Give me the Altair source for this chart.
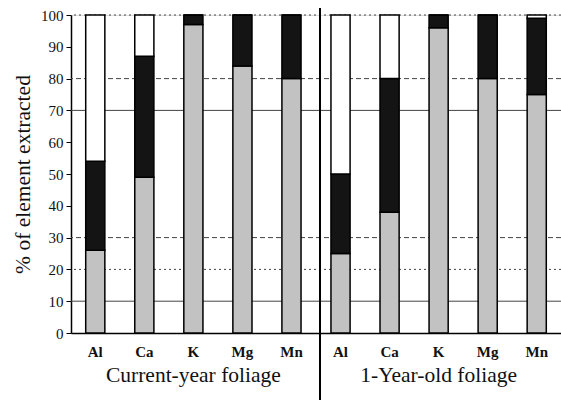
import altair as alt
import pandas as pd

elements = ["Al", "Ca", "K", "Mg", "Mn"]
groups = ["Current-year foliage", "1-Year-old foliage"]
# values (% of element extracted), per group in element order
stippled = [26, 49, 97, 84, 80, 25, 38, 96, 80, 75]
dark = [28, 38, 3, 16, 20, 25, 42, 4, 20, 24]
white = [46, 13, 0, 0, 0, 50, 20, 0, 0, 1]
grid_values = [10, 20, 30, 70, 80, 100]
grid_styles = ["solid", "dotted", "dashed", "solid", "dashed", "dotted"]
y_ticks = [0, 10, 20, 30, 40, 50, 60, 70, 80, 90, 100]

rows = []
cats = []
for gi, g in enumerate(groups):
    for ei, e in enumerate(elements):
        i = gi * 5 + ei
        cat = f"{gi}-{e}"
        cats.append(cat)
        for order, (part, val) in enumerate(
            [("stippled", stippled[i]), ("dark", dark[i]), ("white", white[i])]
        ):
            rows.append({"cat": cat, "el": e, "part": part, "order": order, "value": val})
df = pd.DataFrame(rows)

grid_df = pd.DataFrame({"value": grid_values, "style": grid_styles})
label_df = pd.DataFrame({"cat": ["0-K", "1-K"], "label": groups})

W, H = 490, 318
font = "Liberation Serif"

xscale = alt.Scale(domain=cats, paddingInner=0.61, paddingOuter=0.3)
yscale = alt.Scale(domain=[0, 100], nice=False)

yaxis = alt.Axis(
    title="% of element extracted",
    titlePadding=6,
    values=y_ticks,
    labelOverlap=False,
    labelPadding=3,
    tickSize=5,
    grid=False,
)

grid = alt.Chart(grid_df).mark_rule(color="#444", strokeWidth=1).encode(
    y=alt.Y("value:Q", scale=yscale, axis=yaxis),
    strokeDash=alt.StrokeDash(
        "style:N",
        scale=alt.Scale(domain=["solid", "dotted", "dashed"],
                        range=[[1, 0], [2, 3], [5, 3]]),
        legend=None,
    ),
)

bars = alt.Chart(df).mark_bar(stroke="black", strokeWidth=1.5).encode(
    x=alt.X(
        "cat:N",
        scale=xscale,
        sort=cats,
        axis=alt.Axis(
            title=None,
            labelExpr="split(datum.value, '-')[1]",
            labelAngle=0,
            labelFontWeight="bold",
            labelPadding=11,
            ticks=False,
        ),
    ),
    y=alt.Y("value:Q", stack="zero", scale=yscale, axis=yaxis),
    color=alt.Color(
        "part:N",
        scale=alt.Scale(domain=["stippled", "dark", "white"],
                        range=["#c2c2c2", "#141414", "#ffffff"]),
        legend=None,
    ),
    order=alt.Order("order:Q"),
)

divider = alt.Chart(label_df).mark_rule(color="black", strokeWidth=2).encode(
    x=alt.value(249), y=alt.value(-7), y2=alt.value(H + 67)
)

labels = alt.Chart(label_df).mark_text(
    font=font, fontSize=21.5, color="#111", baseline="middle"
).encode(
    x=alt.X("cat:N", scale=xscale),
    y=alt.value(H + 43),
    text="label:N",
)

chart = (
    alt.layer(grid, bars, divider, labels)
    .properties(
        width=W,
        height=H,
        autosize=alt.AutoSizeParams(type="none"),
        padding={"left": 71, "top": 15, "right": 0, "bottom": 69},
    )
    .configure_view(stroke=None)
    .configure(background="white", font=font)
    .configure_axis(
        labelFont=font,
        labelColor="#111",
        titleFont=font,
        titleColor="#111",
        titleFontWeight="normal",
        tickColor="black",
        domainColor="black",
        domainWidth=1.5,
    )
    .configure_axisX(labelFontSize=15)
    .configure_axisY(labelFontSize=15, titleFontSize=21.5)
)

chart.save("out.html", embed_options={"renderer": "svg", "actions": False})
